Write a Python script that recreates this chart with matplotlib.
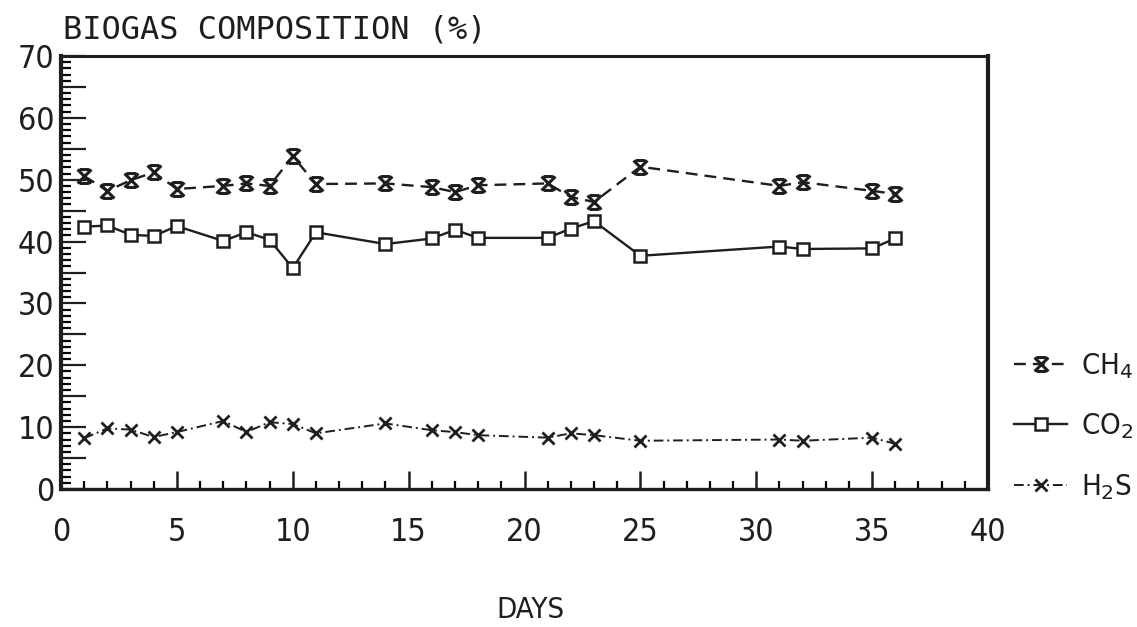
import matplotlib
matplotlib.use("Agg")
import matplotlib.pyplot as plt
from matplotlib.path import Path
from matplotlib.ticker import MultipleLocator, FuncFormatter

days = [1, 2, 3, 4, 5, 7, 8, 9, 10, 11, 14, 16, 17, 18, 21, 22, 23, 25, 31, 32, 35, 36]
ch4 = [50.6, 48.2, 49.9, 51.2, 48.5, 49.0, 49.4, 49.0, 53.8, 49.3, 49.4,
       48.8, 48.0, 49.1, 49.4, 47.2, 46.4, 52.1, 49.0, 49.6, 48.2, 47.7]
co2 = [42.4, 42.6, 41.1, 40.9, 42.5, 40.1, 41.5, 40.3, 35.7, 41.5, 39.6,
       40.5, 41.9, 40.6, 40.6, 42.1, 43.3, 37.7, 39.2, 38.8, 38.9, 40.5]
h2s = [8.2, 9.8, 9.6, 8.4, 9.2, 11.0, 9.2, 10.8, 10.5, 9.0, 10.6,
       9.5, 9.2, 8.7, 8.3, 9.0, 8.7, 7.8, 8.0, 7.8, 8.3, 7.3]
labels = ["CH$_4$", "CO$_2$", "H$_2$S"]

FONT = dict(family="DejaVu Sans", stretch="condensed", weight="light")
INK = "#1e1e1e"

fig = plt.figure(figsize=(11.37, 6.27), dpi=100)
fig.patch.set_facecolor("white")
W, H = 1137, 627
L, R, T, B = 61, 988, 56, 489
ax = fig.add_axes([L / W, 1 - B / H, (R - L) / W, (B - T) / H])

# hourglass-X marker for CH4
xm = Path([(-1, -1), (1, 1), (-1, 1), (1, -1), (-0.7, 1), (0.7, 1), (-0.7, -1), (0.7, -1)],
          [Path.MOVETO, Path.LINETO, Path.MOVETO, Path.LINETO,
           Path.MOVETO, Path.LINETO, Path.MOVETO, Path.LINETO])

ax.plot(days, ch4, color=INK, lw=1.7, ls=(0, (5, 3)), marker=xm, ms=10, mew=2.2,
        label=labels[0])
ax.plot(days, co2, color=INK, lw=1.7, ls="-", marker="s", ms=8, mfc="white", mew=1.8,
        label=labels[1])
ax.plot(days, h2s, color=INK, lw=1.4, ls=(0, (5, 2, 1, 2)), marker="x", ms=9, mew=2.0,
        label=labels[2])

ax.set_xlim(0, 40)
ax.set_ylim(0, 70)
ax.xaxis.set_major_locator(MultipleLocator(5))
ax.xaxis.set_minor_locator(MultipleLocator(1))
ax.yaxis.set_major_locator(MultipleLocator(5))
ax.yaxis.set_minor_locator(MultipleLocator(1))
ax.yaxis.set_major_formatter(FuncFormatter(lambda v, p: f"{int(v)}" if int(round(v)) % 10 == 0 else ""))

ax.tick_params(axis="x", which="major", direction="in", length=13, width=1.8, pad=20,
               labelsize=23, colors=INK, top=False)
ax.tick_params(axis="x", which="minor", direction="in", length=6, width=1.6, top=False)
ax.tick_params(axis="y", which="major", direction="in", length=18, width=1.6, pad=5,
               labelsize=23, colors=INK, right=False)
ax.tick_params(axis="y", which="minor", direction="in", length=7, width=1.6, right=False)
for lab in ax.get_xticklabels() + ax.get_yticklabels():
    lab.set_fontfamily(FONT["family"])
    lab.set_fontstretch(FONT["stretch"])
    lab.set_fontweight(FONT["weight"])

for side, w in [("left", 3.0), ("bottom", 2.4), ("top", 2.2), ("right", 3.0)]:
    ax.spines[side].set_linewidth(w)
    ax.spines[side].set_color(INK)

fig.text(63 / W, 1 - 30 / H, "BIOGAS COMPOSITION (%)", ha="left", va="center",
         fontsize=23, color=INK, family="DejaVu Sans Mono")
fig.text(530 / W, 1 - 610 / H, "DAYS", ha="center", va="center",
         fontsize=21, color=INK, **FONT)

leg = ax.legend(loc="center left", bbox_to_anchor=(1.0, 0.145), frameon=False,
                prop=dict(size=21, **FONT), handlelength=1.8, handletextpad=0.5,
                labelspacing=1.05, borderaxespad=0.5)
for t in leg.get_texts():
    t.set_color(INK)

fig.savefig("out.png", dpi=100, facecolor="white")
